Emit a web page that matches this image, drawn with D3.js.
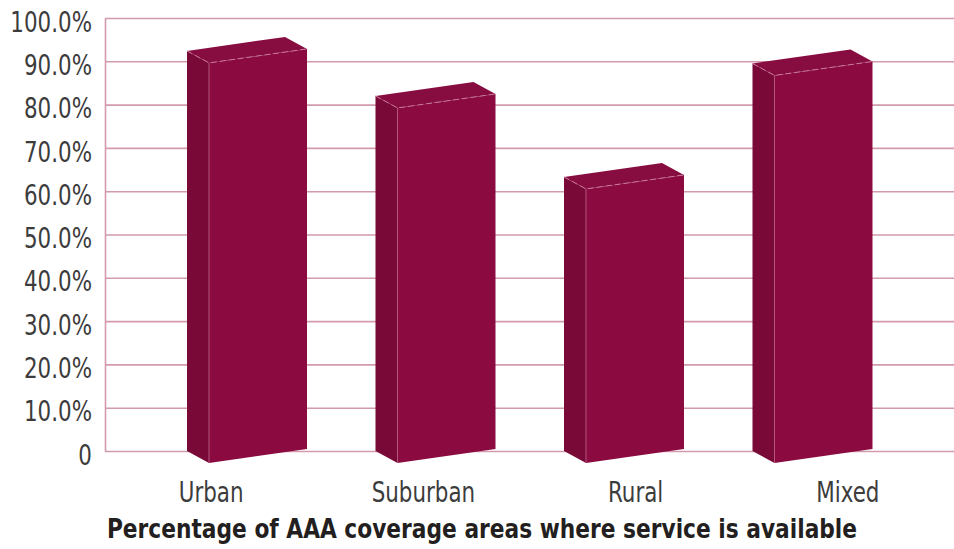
<!DOCTYPE html>
<html>
<head>
<meta charset="utf-8">
<script src="https://cdn.jsdelivr.net/npm/d3@7"></script>
<style>
	body { margin: 0; background: #fff; }
	svg text { font-family: "Liberation Sans Narrow", "DejaVu Sans Condensed", sans-serif; fill: #3c3c3c; }
</style>
</head>
<body>
<div id="chart"></div>
<script>
// Data
const categories = ["Urban", "Suburban", "Rural", "Mixed"];
const coverage = [92.4, 82.0, 63.3, 89.5];
const yTicks = [0, 10, 20, 30, 40, 50, 60, 70, 80, 90, 100];
const title = "Percentage of AAA coverage areas where service is available";

const width = 954, height = 549;
const plot = { left: 105, right: 954, top: 18, bottom: 451 };

// 3D box shape (pixels)
const depthX = 22, depthY = 12;   // offset of the front face from the back
const frontW = 98, skew = -14;    // front face width and slant

const svg = d3.select("#chart").append("svg")
	.attr("width", width).attr("height", height);

const y = d3.scaleLinear([0, 100], [plot.bottom, plot.top]);

// category label positions
const xLabel = d3.scaleBand(categories, [plot.left, plot.right]);

// bar positions (slightly pulled in by the perspective)
const xBar = d3.scaleBand(categories, [152.75, 906.75])
	.paddingInner(0.3634).paddingOuter(0.1817);

// squeeze the fallback font so it is as narrow as the original
function narrow(sel, k = 0.85) {
	sel.each(function () {
		let len = this.getComputedTextLength();
		d3.select(this).attr("textLength", len * k).attr("lengthAdjust", "spacingAndGlyphs");
	});
}

// Grid + y axis
const gridColor = "#d39aac";
const axisY = svg.append("g")
	.attr("transform", `translate(${plot.left},0)`)
	.call(d3.axisLeft(y)
		.tickValues(yTicks)
		.tickSize(-(plot.right - plot.left))
		.tickSizeOuter(0)
		.tickPadding(13)
		.tickFormat((d) => d === 0 ? "0" : d.toFixed(1) + "%"));

axisY.select(".domain").attr("stroke", gridColor).attr("stroke-width", 1.6);
axisY.selectAll(".tick line").attr("stroke", gridColor).attr("stroke-width", 1.6);
axisY.selectAll(".tick text")
	.attr("font-size", 28)
	.attr("font-family", null)
	.attr("dy", "0.47em")
	.call(narrow);

// Bars
const bars = svg.append("g").selectAll("g.bar")
	.data(categories.map((c, i) => [c, coverage[i]]))
	.join("g").classed("bar", true);

function pts(d) {
	let x0 = xBar(d[0]), yt = y(d[1]), yb = y(0);
	return {
		blt: [x0, yt], blb: [x0, yb],
		flt: [x0 + depthX, yt + depthY], flb: [x0 + depthX, yb + depthY],
		frt: [x0 + depthX + frontW, yt + depthY + skew], frb: [x0 + depthX + frontW, yb + depthY + skew],
		brt: [x0 + frontW, yt + skew]
	};
}
const poly = (arr) => "M" + arr.map((p) => p.join(",")).join("L") + "Z";

bars.append("path") // side
	.attr("d", (d) => { let p = pts(d); return poly([p.blt, p.flt, p.flb, p.blb]); })
	.attr("fill", "#790936");
bars.append("path") // front
	.attr("d", (d) => { let p = pts(d); return poly([p.flt, p.frt, p.frb, p.flb]); })
	.attr("fill", "#8b0b41");
bars.append("path") // top
	.attr("d", (d) => { let p = pts(d); return poly([p.blt, p.brt, p.frt, p.flt]); })
	.attr("fill", "#870c40");
bars.append("path") // front-left edge
	.attr("d", (d) => { let p = pts(d); return "M" + p.flt + "L" + p.flb; })
	.attr("stroke", "#b2577a").attr("stroke-width", 1).attr("fill", "none");
bars.append("path") // dashed top edges
	.attr("d", (d) => { let p = pts(d); return "M" + p.blt + "L" + p.flt + "L" + p.frt; })
	.attr("stroke", "#c9799a").attr("stroke-width", 1)
	.attr("stroke-dasharray", "6,3").attr("fill", "none");

// Category labels
svg.append("g").selectAll("text")
	.data(categories)
	.join("text")
	.attr("x", (d) => xLabel(d) + xLabel.bandwidth() / 2)
	.attr("y", 502)
	.attr("text-anchor", "middle")
	.attr("font-size", 28)
	.text((d) => d)
	.call(narrow);

// Title
svg.append("text")
	.attr("x", 482).attr("y", 538)
	.attr("text-anchor", "middle")
	.attr("font-size", 27)
	.attr("font-weight", "bold")
	.style("fill", "#231f20")
	.text(title)
	.call(narrow, 0.895);
</script>
</body>
</html>
